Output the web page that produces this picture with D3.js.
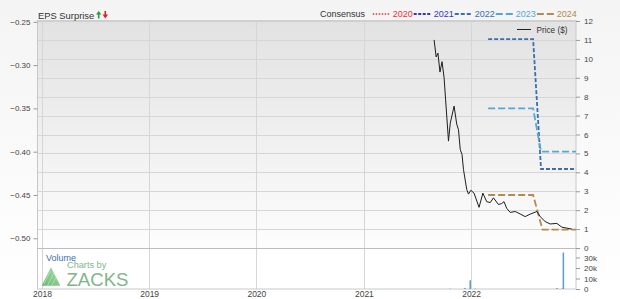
<!DOCTYPE html>
<html>
<head>
<meta charset="utf-8">
<script src="https://cdn.jsdelivr.net/npm/d3@7"></script>
<style>
  body { margin: 0; background: #fff; }
  svg { display: block; font-family: "Liberation Sans", Arial, sans-serif; }
</style>
</head>
<body>
<svg id="chart" width="620" height="299"></svg>
<script>
// ---- data ----
const yearTicks = ["2018-01-01", "2019-01-01", "2020-01-01", "2021-01-01", "2022-01-01"];
const epsTicks = [-0.25, -0.30, -0.35, -0.40, -0.45, -0.50];
const priceTicks = [0, 1, 2, 3, 4, 5, 6, 7, 8, 9, 10, 11, 12];
const volumeTicks = [0, 10000, 20000, 30000];

const priceDates = [
  "2021-08-28", "2021-09-04", "2021-09-10", "2021-09-17", "2021-09-24", "2021-10-01",
  "2021-10-16", "2021-10-22", "2021-11-04", "2021-11-13", "2021-11-19", "2021-11-25",
  "2021-12-01", "2021-12-06", "2021-12-17", "2021-12-23", "2021-12-31", "2022-01-11",
  "2022-01-28", "2022-02-10", "2022-02-23", "2022-03-07", "2022-03-18", "2022-04-04",
  "2022-04-15", "2022-04-23", "2022-05-02", "2022-05-14", "2022-05-31", "2022-06-17",
  "2022-07-04", "2022-07-21", "2022-08-13", "2022-08-24", "2022-09-10", "2022-09-27",
  "2022-10-20", "2022-11-06", "2022-11-23", "2022-12-10"
];
const priceValues = [
  11.0, 10.1, 10.3, 9.3, 9.85, 9.0,
  5.65, 6.6, 7.5, 6.55, 6.25, 5.2,
  4.95, 4.15, 3.1, 2.85, 3.05, 2.9,
  2.15, 2.9, 2.45, 2.4, 2.65, 2.3,
  2.35, 2.45, 2.1, 1.88, 1.93, 1.8,
  1.66, 1.79, 1.93, 1.66, 1.4, 1.27,
  1.3, 1.1, 1.05, 1.0
];

const consensusYears = ["2020", "2021", "2022", "2023", "2024"];
const cons2022Dates = ["2022-02-28", "2022-07-31", "2022-08-27", "2022-12-24"];
const cons2022Values = [-0.27, -0.27, -0.42, -0.42];
const cons2023Dates = ["2022-02-28", "2022-07-31", "2022-08-27", "2022-12-24"];
const cons2023Values = [-0.35, -0.35, -0.40, -0.40];
const cons2024Dates = ["2022-02-28", "2022-07-31", "2022-09-01", "2022-12-24"];
const cons2024Values = [-0.45, -0.45, -0.49, -0.49];

const volumeDates = ["2021-10-21", "2021-12-11", "2021-12-29", "2022-01-15", "2022-10-20", "2022-11-06", "2022-11-11"];
const volumeValues = [300, 1000, 8300, 400, 1000, 300, 34700];

// ---- styles ----
const consStyle = {
  "2020": {color: "#e8303a", dash: "1.5,1.5", width: 1.5},
  "2021": {color: "#3436c4", dash: "3,1.5", width: 1.8},
  "2022": {color: "#3a6eae", dash: "4,2", width: 1.8},
  "2023": {color: "#56a8d2", dash: "7,3", width: 1.8},
  "2024": {color: "#b48a4e", dash: "7,3", width: 1.8}
};

const parse = d3.timeParse("%Y-%m-%d");
const plotLeft = 37.5, plotRight = 576, plotTop = 21, mainBottom = 248, volBottom = 289;

const svg = d3.select("#chart");
const defs = svg.append("defs");

const bg = defs.append("linearGradient").attr("id", "bg").attr("x1", 0).attr("y1", 0).attr("x2", 0).attr("y2", 1);
bg.append("stop").attr("offset", "0%").attr("stop-color", "#f4f4f4");
bg.append("stop").attr("offset", "100%").attr("stop-color", "#ffffff");

const plotBg = defs.append("linearGradient").attr("id", "plotbg").attr("x1", 0).attr("y1", 0).attr("x2", 0).attr("y2", 1);
plotBg.append("stop").attr("offset", "0%").attr("stop-color", "#e2e2e2");
plotBg.append("stop").attr("offset", "100%").attr("stop-color", "#fdfdfd");

const logoGrad = defs.append("linearGradient").attr("id", "logo").attr("x1", 0).attr("y1", 1).attr("x2", 1).attr("y2", 0);
logoGrad.append("stop").attr("offset", "0%").attr("stop-color", "#4fae58");
logoGrad.append("stop").attr("offset", "100%").attr("stop-color", "#9ad69a");

svg.append("rect").attr("width", 620).attr("height", 299).attr("fill", "url(#bg)");

// scales
const x = d3.scaleTime()
  .domain([parse("2017-12-17"), parse("2022-12-24")])
  .range([plotLeft, plotRight]);
const yPrice = d3.scaleLinear().domain([0, 12]).range([mainBottom, plotTop]);
const yEps = d3.scaleLinear().domain([-0.51123, -0.24907]).range([mainBottom, plotTop]);
const yVol = d3.scaleLinear().domain([0, 39000]).range([volBottom, mainBottom]);

// panes
svg.append("rect").attr("x", plotLeft).attr("y", plotTop).attr("width", plotRight - plotLeft).attr("height", mainBottom - plotTop)
  .attr("fill", "url(#plotbg)");
svg.append("rect").attr("x", plotLeft).attr("y", mainBottom).attr("width", plotRight - plotLeft).attr("height", volBottom - mainBottom)
  .attr("fill", "#ffffff");

// grid
const grid = svg.append("g").attr("stroke", "#d6d6d6").attr("stroke-width", 1);
grid.selectAll(".h").data(priceTicks).join("line")
  .attr("x1", plotLeft).attr("x2", plotRight)
  .attr("y1", d => Math.round(yPrice(d)) + 0.5).attr("y2", d => Math.round(yPrice(d)) + 0.5);
grid.selectAll(".v").data(yearTicks).join("line")
  .attr("x1", d => Math.round(x(parse(d))) + 0.5).attr("x2", d => Math.round(x(parse(d))) + 0.5)
  .attr("y1", plotTop).attr("y2", volBottom);

// frame
const frame = svg.append("g").attr("fill", "none").attr("stroke", "#c8c8c8");
frame.append("rect").attr("x", plotLeft).attr("y", plotTop - 0.5).attr("width", plotRight - plotLeft).attr("height", volBottom - plotTop + 0.5);
frame.append("line").attr("x1", plotLeft).attr("x2", plotRight).attr("y1", mainBottom + 0.5).attr("y2", mainBottom + 0.5)
  .attr("stroke", "#bdbdbd");
frame.append("line").attr("x1", plotLeft).attr("x2", plotRight).attr("y1", plotTop).attr("y2", plotTop)
  .attr("stroke", "#cfcfcf").attr("stroke-width", 2);

// watermark
const wm = svg.append("g").attr("opacity", 0.85);
wm.append("path")
  .attr("d", "M41.7,285.7 L51,267.3 L60.3,285.7 Z")
  .attr("fill", "url(#logo)");
wm.append("path")
  .attr("d", "M44,284 L50.5,271 M47.5,285.5 L54,273 M51.5,285.5 L56.5,276.5")
  .attr("stroke", "#c8eec8").attr("stroke-width", 0.8).attr("opacity", 0.7);
wm.append("text").attr("x", 67).attr("y", 267.5).attr("font-size", 9.2).attr("fill", "#6aa977").text("Charts by");
wm.append("text").attr("x", 66.5).attr("y", 285.7).attr("font-size", 18.6).attr("fill", "#6aa977").text("ZACKS");
svg.append("text").attr("x", 46).attr("y", 260.5).attr("font-size", 9).attr("fill", "#3f6fb0").text("Volume");

// volume bars
svg.append("g").attr("fill", "#5b9bd0")
  .selectAll("rect").data(volumeDates.map((d, i) => ({date: parse(d), v: volumeValues[i]}))).join("rect")
  .attr("x", d => x(d.date) - 0.75).attr("width", 1.5)
  .attr("y", d => yVol(d.v)).attr("height", d => volBottom - yVol(d.v));

// consensus lines (EPS axis)
const epsLine = d3.line().x(d => x(d.date)).y(d => yEps(d.v));
const consSeries = [
  {year: "2022", dates: cons2022Dates, values: cons2022Values},
  {year: "2023", dates: cons2023Dates, values: cons2023Values},
  {year: "2024", dates: cons2024Dates, values: cons2024Values}
];
svg.append("g").attr("fill", "none")
  .selectAll("path").data(consSeries).join("path")
  .attr("stroke", d => consStyle[d.year].color)
  .attr("stroke-width", d => consStyle[d.year].width)
  .attr("stroke-dasharray", d => consStyle[d.year].dash)
  .attr("d", d => epsLine(d.dates.map((t, i) => ({date: parse(t), v: d.values[i]}))));

// price line
const priceLine = d3.line().x(d => x(d.date)).y(d => yPrice(d.v));
svg.append("path")
  .attr("fill", "none").attr("stroke", "#1e1e1e").attr("stroke-width", 1)
  .attr("d", priceLine(priceDates.map((t, i) => ({date: parse(t), v: priceValues[i]}))));

// axes
const axisStyle = g => {
  g.select(".domain").remove();
  g.selectAll(".tick line").attr("stroke", "#999");
  g.selectAll(".tick text").attr("fill", "#444").attr("font-size", 8)
    .attr("font-family", "'Liberation Sans', Arial, sans-serif");
};
svg.append("g").attr("transform", `translate(${plotLeft},0)`)
  .call(d3.axisLeft(yEps).tickValues(epsTicks).tickFormat(d3.format(".2f")).tickSize(4).tickPadding(3))
  .call(axisStyle);
svg.append("g").attr("transform", `translate(${plotRight},0)`)
  .call(d3.axisRight(yPrice).tickValues(priceTicks).tickFormat(d3.format("d")).tickSize(4).tickPadding(4))
  .call(axisStyle);
svg.append("g").attr("transform", `translate(${plotRight},0)`)
  .call(d3.axisRight(yVol).tickValues(volumeTicks).tickFormat(d => d === 0 ? "0" : d / 1000 + "k").tickSize(4).tickPadding(4))
  .call(axisStyle);
svg.append("g").attr("transform", `translate(0,${volBottom})`)
  .call(d3.axisBottom(x).tickValues(yearTicks.map(parse)).tickFormat(d3.timeFormat("%Y")).tickSize(0).tickPadding(2))
  .call(axisStyle)
  .selectAll(".tick text").attr("font-size", 8.5);

// header: EPS surprise
svg.append("text").attr("x", 38).attr("y", 18.7).attr("font-size", 9.4).attr("fill", "#333").text("EPS Surprise");
svg.append("path").attr("d", "M96,14.5 L98.7,11 L101.4,14.5 L99.5,14.5 L99.5,18.5 L97.9,18.5 L97.9,14.5 Z").attr("fill", "#2a9a3a");
svg.append("path").attr("d", "M102.6,14.5 L105.3,18.5 L108,14.5 L106.1,14.5 L106.1,11 L104.5,11 L104.5,14.5 Z").attr("fill", "#e02020");

// header: consensus legend
const legend = svg.append("g").attr("font-size", 9);
legend.append("text").attr("x", 320).attr("y", 17.3).attr("fill", "#333").text("Consensus");
let lx = 372.7;
consensusYears.forEach(yr => {
  const s = consStyle[yr];
  legend.append("line").attr("x1", lx).attr("x2", lx + 17).attr("y1", 14).attr("y2", 14)
    .attr("stroke", s.color).attr("stroke-width", s.width).attr("stroke-dasharray", s.dash);
  const t = legend.append("text").attr("x", lx + 20).attr("y", 17.3).attr("fill", s.color).text(yr);
  lx += 20 + t.node().getComputedTextLength() + 1;
});

// price legend
svg.append("line").attr("x1", 517).attr("x2", 531).attr("y1", 29.5).attr("y2", 29.5).attr("stroke", "#222");
svg.append("text").attr("x", 536.5).attr("y", 33).attr("font-size", 8.2).attr("fill", "#333").text("Price ($)");
</script>
</body>
</html>
